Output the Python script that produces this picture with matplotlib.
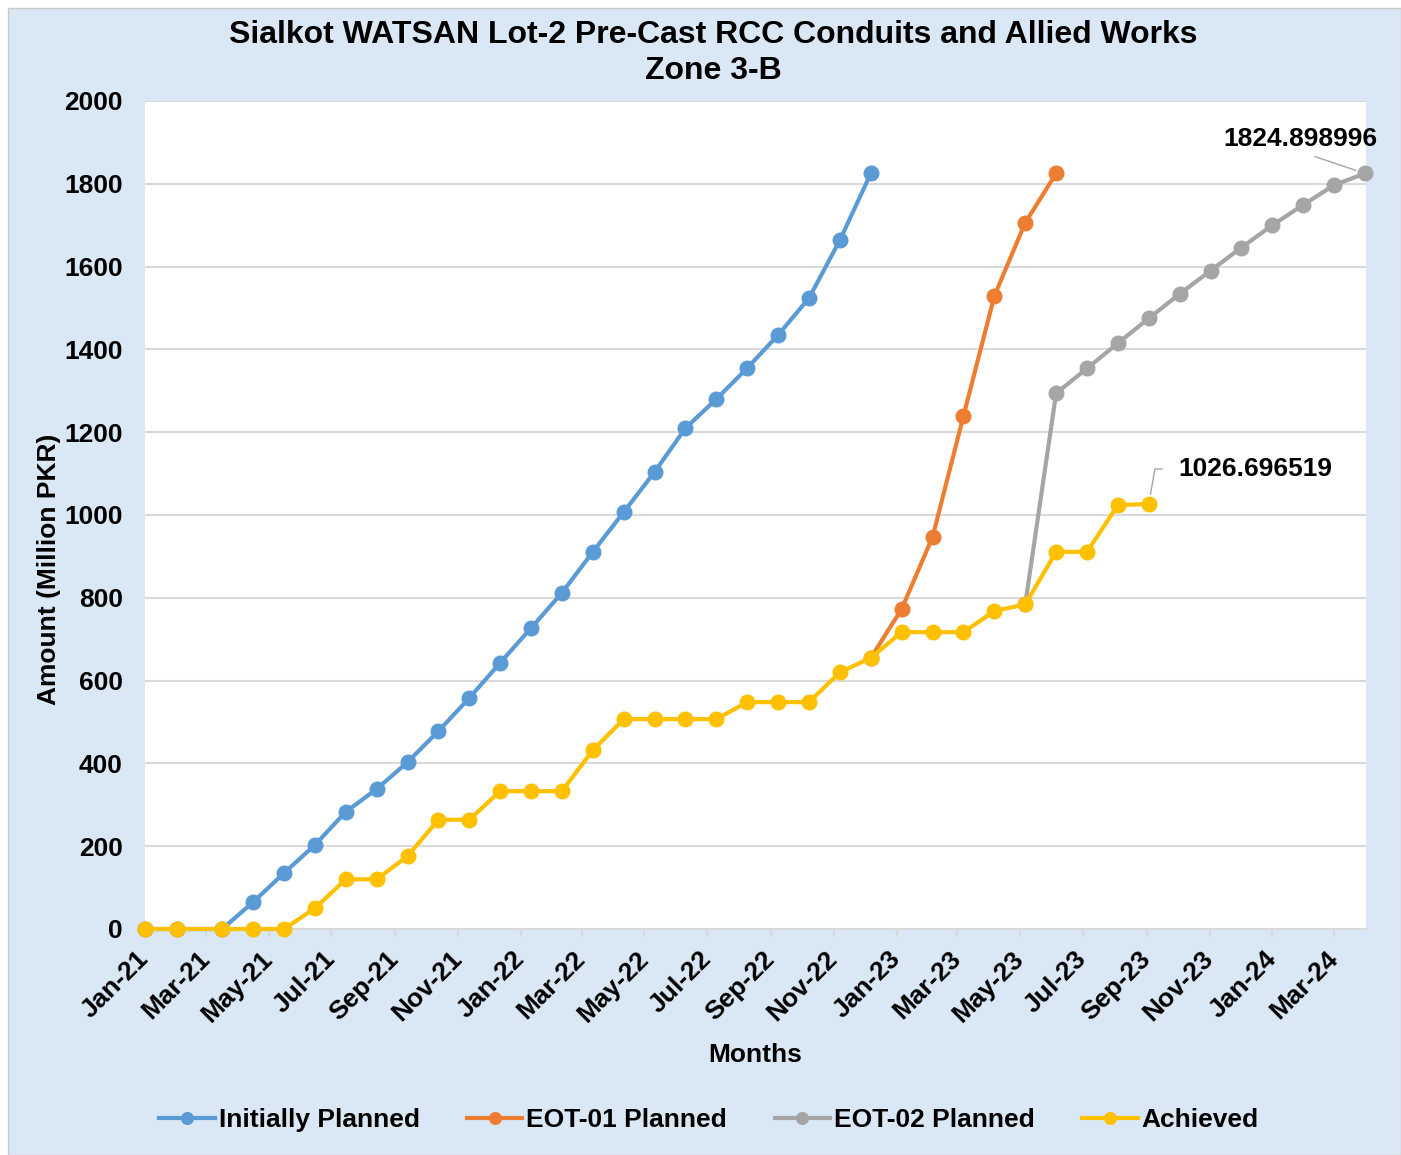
import matplotlib
matplotlib.use("Agg")
import matplotlib.pyplot as plt
import matplotlib.dates as mdates
import pandas as pd
from matplotlib.patches import Rectangle

# reporting dates (shared timeline for all series)
dates = pd.to_datetime([
    "2021-01-01", "2021-02-01", "2021-03-17", "2021-04-16", "2021-05-16",
    "2021-06-15", "2021-07-15", "2021-08-14", "2021-09-13", "2021-10-13",
    "2021-11-12", "2021-12-12", "2022-01-11", "2022-02-10", "2022-03-12",
    "2022-04-11", "2022-05-11", "2022-06-10", "2022-07-10", "2022-08-09",
    "2022-09-08", "2022-10-08", "2022-11-07", "2022-12-07", "2023-01-06",
    "2023-02-05", "2023-03-07", "2023-04-06", "2023-05-06", "2023-06-05",
    "2023-07-05", "2023-08-04", "2023-09-03", "2023-10-03", "2023-11-02",
    "2023-12-02", "2024-01-01", "2024-01-31", "2024-03-01", "2024-03-31",
])

initially_planned = [0, 0, 0, 65, 135, 203, 283, 338, 403, 478, 558, 643, 727,
                     812, 911, 1007, 1104, 1210, 1280, 1355, 1435, 1524, 1664,
                     1824.898996]
eot01_planned = [655, 773, 947, 1239, 1529, 1706, 1824.898996]
eot02_planned = [784, 1294, 1354, 1415, 1475, 1534, 1590, 1646, 1700, 1749,
                 1797, 1824.898996]
achieved = [0, 0, 0, 0, 0, 50, 120, 120, 176, 264, 264, 333, 333, 333, 432,
            507, 507, 507, 507, 548, 548, 548, 620, 655, 717, 717, 717, 768,
            784, 911, 911, 1024, 1026.696519]

# where each series starts on the shared timeline
eot01_start = 23
eot02_start = 28

series = [
    ("Initially Planned", dates[:len(initially_planned)], initially_planned, "#5B9BD5"),
    ("EOT-01 Planned", dates[eot01_start:eot01_start + len(eot01_planned)], eot01_planned, "#ED7D31"),
    ("EOT-02 Planned", dates[eot02_start:eot02_start + len(eot02_planned)], eot02_planned, "#A5A5A5"),
    ("Achieved", dates[:len(achieved)], achieved, "#FFC000"),
]

plt.rcParams['font.family'] = ['Liberation Sans', 'DejaVu Sans']
plt.rcParams['font.weight'] = 'bold'
plt.rcParams['axes.labelweight'] = 'bold'

W, H = 1401, 1155
fig = plt.figure(figsize=(W / 100, H / 100), dpi=100)
fig.patch.set_facecolor('white')
fig.patches.append(Rectangle((8 / W, 0), (W - 8) / W, (H - 8) / H,
                             transform=fig.transFigure, facecolor='#dae7f4',
                             edgecolor='#c9c9c9', lw=1, zorder=-10))

ax = fig.add_axes([145 / W, 1 - 929 / H, 1221 / W, 828 / H])
ax.set_facecolor('white')

for name, x, y, c in series:
    ax.plot(x, y, color=c, lw=3, marker='o', ms=10.5, label=name,
            clip_on=False, zorder=3)

ax.set_ylim(0, 2000)
ax.set_yticks(range(0, 2001, 200))
ax.set_xlim(pd.Timestamp("2021-01-01"), pd.Timestamp("2024-04-01"))
ax.xaxis.set_major_locator(mdates.MonthLocator(bymonth=[1, 3, 5, 7, 9, 11]))
ax.xaxis.set_major_formatter(mdates.DateFormatter('%b-%y'))

ax.grid(axis='y', color='#d9d9d9', lw=1.5)
ax.set_axisbelow(True)
for s in ['top', 'right', 'left']:
    ax.spines[s].set_visible(False)
ax.spines['bottom'].set_color('#d9d9d9')
ax.spines['bottom'].set_linewidth(1.5)
ax.tick_params(axis='y', length=0, pad=16, labelsize=19)
ax.tick_params(axis='x', length=6, color='#d9d9d9', width=1.5, pad=13,
               labelsize=19)
plt.setp(ax.get_xticklabels(), rotation=45, ha='right', va='center',
         rotation_mode='anchor')

ax.set_xlabel('Months', fontsize=19, fontweight='bold')
ax.xaxis.set_label_coords(0.5, -0.1377)
ax.set_ylabel('Amount (Million PKR)', fontsize=19, fontweight='bold')
ax.yaxis.set_label_coords(-0.069, 0.434)

# data labels
ax.annotate(f"{achieved[-1]:.6f}", xy=(dates[len(achieved) - 1], achieved[-1]),
            xytext=(30, 35), textcoords='offset pixels', ha='left',
            va='center', fontsize=19,
            arrowprops=dict(arrowstyle='-', color='#a5a5a5', lw=1,
                            relpos=(0, 0.5), shrinkA=10, shrinkB=7,
                            connectionstyle='angle,angleA=0,angleB=80,rad=0'))
ax.annotate(f"{eot02_planned[-1]:.6f}", xy=(dates[-1], eot02_planned[-1]),
            xytext=(-65, 34), textcoords='offset pixels', ha='center',
            va='center', fontsize=19,
            arrowprops=dict(arrowstyle='-', color='#a5a5a5', lw=1,
                            relpos=(0.5, 0), shrinkA=5, shrinkB=7))

fig.text(713 / W, 1 - 53 / H,
         "Sialkot WATSAN Lot-2 Pre-Cast RCC Conduits and Allied Works\nZone 3-B",
         ha='center', va='center', fontsize=23, linespacing=1.25)

fig.legend(loc='center', bbox_to_anchor=(709 / W, 1 - 1120 / H), ncol=4,
           frameon=False, fontsize=19, handlelength=2.1, handletextpad=0.15,
           columnspacing=1.8, markerscale=0.8)

fig.savefig('out.png', dpi=100)
plt.close(fig)
